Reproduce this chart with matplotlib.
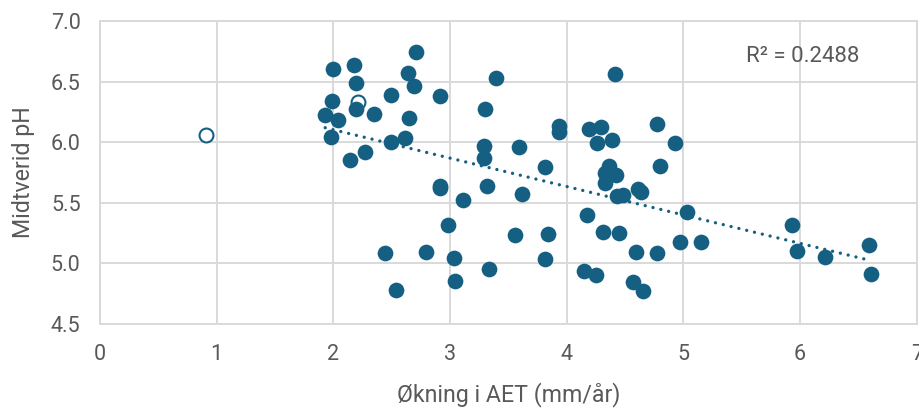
import numpy as np
import matplotlib
matplotlib.use("Agg")
import matplotlib.pyplot as plt

plt.rcParams['font.family'] = ['Roboto', 'DejaVu Sans']

# Increase in actual evapotranspiration (mm/yr) and mean pH per site
aet = [1.93, 1.98, 1.99, 2.00, 2.04, 2.14, 2.18, 2.19, 2.19, 2.27,
       2.35, 2.44, 2.49, 2.49, 2.54, 2.61, 2.64, 2.65, 2.69, 2.71,
       2.79, 2.91, 2.91, 2.91, 2.98, 3.03, 3.04, 3.11, 3.29, 3.29,
       3.30, 3.32, 3.33, 3.39, 3.56, 3.59, 3.62, 3.81, 3.81, 3.84,
       3.93, 3.93, 4.15, 4.17, 4.19, 4.25, 4.26, 4.29, 4.31, 4.33,
       4.33, 4.36, 4.39, 4.41, 4.42, 4.43, 4.45, 4.48, 4.57, 4.59,
       4.61, 4.64, 4.65, 4.77, 4.77, 4.80, 4.93, 4.97, 5.03, 5.15,
       5.93, 5.97, 6.21, 6.59, 6.61]
ph = [6.22, 6.04, 6.34, 6.60, 6.18, 5.85, 6.64, 6.49, 6.27, 5.92,
      6.23, 5.08, 6.39, 6.00, 4.78, 6.03, 6.57, 6.20, 6.46, 6.74,
      5.09, 6.38, 5.64, 5.62, 5.31, 5.04, 4.85, 5.52, 5.97, 5.87,
      6.27, 5.64, 4.95, 6.53, 5.23, 5.96, 5.57, 5.79, 5.03, 5.24,
      6.13, 6.08, 4.93, 5.40, 6.11, 4.90, 5.99, 6.12, 5.26, 5.74,
      5.66, 5.80, 6.02, 6.56, 5.73, 5.55, 5.25, 5.56, 4.84, 5.09,
      5.61, 5.59, 4.77, 5.08, 6.15, 5.80, 5.99, 5.17, 5.42, 5.17,
      5.31, 5.10, 5.05, 5.15, 4.91]

# Sites left out of the regression
aet_excluded = [0.91, 2.21]
ph_excluded = [6.06, 6.33]

r2_label = "R\u00b2 = 0.2488"

x_ticks = [0, 1, 2, 3, 4, 5, 6, 7]
y_ticks = [4.5, 5.0, 5.5, 6.0, 6.5, 7.0]

blue = "#156082"
grid_col = "#d9d9d9"
text_col = "#595959"

fig = plt.figure(figsize=(9.2, 4.08), dpi=100)
ax = fig.add_axes([0.1087, 0.2071, 0.8877, 0.7414])

ax.scatter(aet_excluded, ph_excluded, s=100, facecolor="white",
           edgecolor=blue, linewidth=1.5, zorder=3)
ax.scatter(aet, ph, s=128, color=blue, linewidth=0, zorder=4)

# Linear trend over the included sites
xa = np.array(aet)
coef = np.polyfit(xa, np.array(ph), 1)
xs = np.array([xa.min(), xa.max()])
ax.plot(xs, np.polyval(coef, xs), color=blue, linewidth=2.4,
        linestyle=(0, (0.01, 2.4)), dash_capstyle="round", zorder=2)

ax.text(5.54, 6.71, r2_label, ha="left", va="center",
        fontsize=16, color=text_col)

ax.set_xlim(0, 7)
ax.set_ylim(4.5, 7.0)
ax.set_xticks(x_ticks)
ax.set_yticks(y_ticks)
ax.set_xticklabels([str(v) for v in x_ticks])
ax.set_yticklabels([f"{v:.1f}" for v in y_ticks])
ax.tick_params(length=0, labelsize=15.5, colors=text_col)
ax.tick_params(axis="x", pad=15)
ax.tick_params(axis="y", pad=14)

ax.grid(True, color=grid_col, linewidth=1.4)
ax.set_axisbelow(True)
for side in ["top", "right", "left", "bottom"]:
    ax.spines[side].set_color(grid_col)
    ax.spines[side].set_linewidth(1.4)

ax.set_xlabel("Økning i AET (mm/år)", fontsize=16.7, color=text_col, labelpad=12)
ax.set_ylabel("Midtverid pH", fontsize=16.7, color=text_col, labelpad=11)

fig.savefig("out.png", dpi=100)
